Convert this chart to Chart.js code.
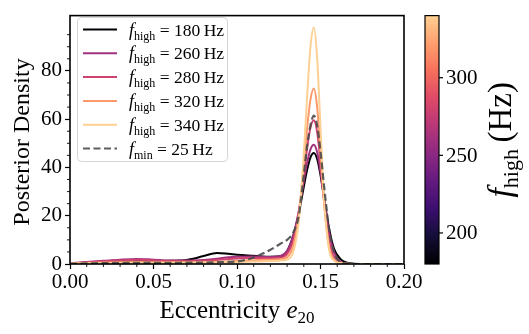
<!DOCTYPE html>
<html>
<head>
<meta charset="utf-8">
<script src="https://cdn.jsdelivr.net/npm/chart.js@4.4.0/dist/chart.umd.min.js"></script>
<style>
  html, body { margin: 0; padding: 0; background: #fff; }
  #wrap { width: 529px; height: 334px; }
</style>
</head>
<body>
<div id="wrap"><canvas id="kde" width="529" height="334"></canvas></div>
<script>
// --- DATA ---
const ecc = [0, 0.01, 0.02, 0.03, 0.04, 0.05, 0.06, 0.07, 0.08, 0.088, 0.095, 0.10, 0.11, 0.12, 0.126,
             0.13, 0.134, 0.137, 0.14, 0.142, 0.144, 0.146, 0.148, 0.15, 0.152, 0.155, 0.158, 0.162,
             0.166, 0.17, 0.18, 0.19, 0.20];
const fHigh = [180, 260, 280, 320, 340];
const fMin = 25;
const dens180 = [0.2, 0.55, 0.8, 1.0, 1.1, 1.2, 1.35, 1.7, 3.3, 4.6, 4.2, 3.8, 3.4, 3.0, 3.2,
                 5.3, 12.5, 21.0, 32.0, 39.0, 44.2, 46.0, 43.5, 36.8, 27.9, 15.2, 6.5, 2.0,
                 0.5, 0.15, 0.02, 0, 0];
const dens260 = [0.3, 0.8, 1.3, 1.8, 2.1, 1.8, 1.5, 1.4, 1.7, 2.2, 2.8, 3.0, 3.1, 2.9, 3.3,
                 5.5, 12.5, 22.0, 34.5, 42.0, 47.5, 49.4, 46.3, 38.3, 27.9, 13.7, 5.1, 0.9,
                 0.15, 0.03, 0, 0, 0];
const dens280 = [0.3, 0.7, 1.1, 1.5, 1.8, 1.5, 1.2, 1.1, 1.3, 1.7, 2.1, 2.3, 2.5, 2.4, 2.6,
                 4.2, 10.5, 21.0, 37.0, 48.0, 56.5, 59.5, 54.6, 42.1, 27.2, 10.4, 2.8, 0.5,
                 0.1, 0.02, 0, 0, 0];
const dens320 = [0.2, 0.4, 0.6, 0.7, 0.8, 0.75, 0.7, 0.7, 0.8, 0.9, 1.05, 1.3, 1.6, 1.8, 2.0,
                 2.8, 8.3, 20.5, 41.0, 56.3, 68.2, 72.7, 65.0, 46.2, 26.2, 7.8, 1.8, 0.4,
                 0.1, 0, 0, 0, 0];
const dens340 = [0.1, 0.3, 0.4, 0.5, 0.5, 0.55, 0.55, 0.55, 0.6, 0.65, 0.75, 0.8, 1.0, 1.2, 1.4,
                 1.8, 5.8, 17.8, 45.5, 69.5, 90.0, 98.0, 85.4, 56.3, 28.3, 6.5, 1.5, 0.4,
                 0.1, 0, 0, 0, 0];
const densMin25 = [0.1, 0.25, 0.35, 0.4, 0.45, 0.5, 0.5, 0.55, 0.6, 0.75, 0.9, 1.05, 2.7, 5.9, 8.4,
                   10.0, 13.5, 20.0, 37.0, 49.0, 57.5, 61.5, 57.4, 46.7, 33.2, 15.3, 5.2, 0.8,
                   0.1, 0, 0, 0, 0];
const xTicks = [0, 0.05, 0.10, 0.15, 0.20];
const yTicks = [0, 20, 40, 60, 80];
const cbTicks = [200, 250, 300];
const cbRange = [180, 340];

// --- STYLE ---
const SERIF = "'Liberation Serif', 'DejaVu Serif', serif";
const lineColors = ['#000004', '#a1307d', '#cf426e', '#fd996b', '#fecf92'];
const magmaStops = ['#000004', '#140e36', '#3b0f70', '#641a80', '#8c2981',
                    '#b73779', '#de4968', '#f7705c', '#fe9f6d', '#fecf92'];
const dashColor = 'rgba(75,75,75,0.9)';

const allSeries = [dens180, dens260, dens280, dens320, dens340];
const peak = Math.max(...allSeries.flat(), ...densMin25);
const yTop = peak * 1.05;

const toPts = arr => arr.map((v, i) => ({ x: ecc[i], y: v }));

const datasets = fHigh.map((f, i) => ({
    label: 'fhigh=' + f,
    data: toPts(allSeries[i]),
    borderColor: lineColors[i],
    borderWidth: 2,
    order: 10 - i
}));
datasets.push({
    label: 'fmin=' + fMin,
    data: toPts(densMin25),
    borderColor: dashColor,
    borderWidth: 2.2,
    borderDash: [7, 3.5],
    order: 1
});

// draw a run of text pieces (for italic f + subscript)
function drawRich(ctx, parts, x, y) {
    let cx = x;
    parts.forEach(p => {
        ctx.font = p.font;
        ctx.fillText(p.t, cx, y + (p.dy || 0));
        cx += ctx.measureText(p.t).width;
    });
    return cx - x;
}
function richWidth(ctx, parts) {
    let w = 0;
    parts.forEach(p => { ctx.font = p.font; w += ctx.measureText(p.t).width; });
    return w;
}

const decor = {
    id: 'decor',
    afterDatasetsDraw(chart) {
        const ctx = chart.ctx;
        const a = chart.chartArea;
        const xs = chart.scales.x, ys = chart.scales.y;
        ctx.save();
        ctx.strokeStyle = '#000';
        ctx.fillStyle = '#000';

        // minor ticks
        ctx.lineWidth = 0.9;
        ctx.beginPath();
        for (let k = 0; k <= 20; k++) {
            if (k % 5 === 0) continue;
            const px = xs.getPixelForValue(k * 0.01);
            ctx.moveTo(px, a.bottom); ctx.lineTo(px, a.bottom + 3);
        }
        for (let v = 5; v < yTop; v += 5) {
            if (v % 20 === 0) continue;
            const py = ys.getPixelForValue(v);
            ctx.moveTo(a.left, py); ctx.lineTo(a.left - 3, py);
        }
        ctx.stroke();

        // frame
        ctx.lineWidth = 1.6;
        ctx.strokeRect(a.left, a.top, a.right - a.left, a.bottom - a.top);

        // legend
        const lx = 77.5, ly = 17.5, lw = 150, lh = 144;
        ctx.beginPath();
        ctx.roundRect(lx, ly, lw, lh, 4);
        ctx.fillStyle = 'rgba(255,255,255,0.85)';
        ctx.fill();
        ctx.strokeStyle = '#d5d5d5';
        ctx.lineWidth = 1;
        ctx.stroke();
        const rows = fHigh.map((f, i) => ({ sub: 'high', val: f, color: lineColors[i], dash: [] }));
        rows.push({ sub: 'min', val: fMin, color: dashColor, dash: [7, 3.5] });
        rows.forEach((r, i) => {
            const cy = 29.5 + i * 23.8;
            ctx.strokeStyle = r.color;
            ctx.lineWidth = r.dash.length ? 2.2 : 2;
            ctx.setLineDash(r.dash);
            ctx.beginPath();
            ctx.moveTo(83, cy); ctx.lineTo(117, cy);
            ctx.stroke();
            ctx.setLineDash([]);
            ctx.fillStyle = '#000';
            ctx.textBaseline = 'alphabetic';
            ctx.textAlign = 'left';
            drawRich(ctx, [
                { t: 'f', font: 'italic 18px ' + SERIF },
                { t: r.sub, font: '12px ' + SERIF, dy: 4 },
                { t: ' = ' + r.val + '\u2009Hz', font: '17.5px ' + SERIF }
            ], 129, cy + 6);
        });

        // colorbar
        const cbx = 425, cbw = 14, cbt = a.top, cbb = a.bottom;
        const grad = ctx.createLinearGradient(0, cbb, 0, cbt);
        magmaStops.forEach((c, i) => grad.addColorStop(i / (magmaStops.length - 1), c));
        ctx.fillStyle = grad;
        ctx.fillRect(cbx, cbt, cbw, cbb - cbt);
        ctx.strokeStyle = '#000';
        ctx.lineWidth = 1.2;
        ctx.strokeRect(cbx, cbt, cbw, cbb - cbt);
        ctx.fillStyle = '#000';
        ctx.font = '21px ' + SERIF;
        ctx.textAlign = 'left';
        ctx.textBaseline = 'middle';
        cbTicks.forEach(v => {
            const py = cbb - (v - cbRange[0]) / (cbRange[1] - cbRange[0]) * (cbb - cbt);
            ctx.beginPath();
            ctx.moveTo(cbx + cbw, py); ctx.lineTo(cbx + cbw + 4, py);
            ctx.stroke();
            ctx.fillText(String(v), cbx + cbw + 7, py + 1);
        });
        // colorbar label
        const cbParts = [
            { t: 'f', font: 'italic 34px ' + SERIF },
            { t: 'high', font: '22px ' + SERIF, dy: 7 },
            { t: '\u2009(Hz)', font: '33px ' + SERIF }
        ];
        ctx.save();
        ctx.translate(511, (cbt + cbb) / 2);
        ctx.rotate(-Math.PI / 2);
        ctx.textBaseline = 'alphabetic';
        drawRich(ctx, cbParts, -richWidth(ctx, cbParts) / 2, 0);
        ctx.restore();

        // axis titles
        ctx.textBaseline = 'alphabetic';
        const xParts = [
            { t: 'Eccentricity ', font: '25px ' + SERIF },
            { t: 'e', font: 'italic 25px ' + SERIF },
            { t: '20', font: '17px ' + SERIF, dy: 5 }
        ];
        drawRich(ctx, xParts, (a.left + a.right) / 2 - richWidth(ctx, xParts) / 2, 318);
        ctx.save();
        ctx.translate(29, 142);
        ctx.rotate(-Math.PI / 2);
        ctx.textAlign = 'center';
        ctx.font = '24px ' + SERIF;
        ctx.fillText('Posterior Density', 0, 0);
        ctx.restore();

        ctx.restore();
    }
};

const tickGrid = {
    display: true,
    drawOnChartArea: false,
    drawTicks: true,
    tickLength: 5,
    tickWidth: 1.2,
    tickColor: '#000'
};

new Chart(document.getElementById('kde').getContext('2d'), {
    type: 'line',
    data: { datasets: datasets },
    options: {
        responsive: false,
        animation: false,
        layout: { padding: { top: 10, right: 125, left: 0, bottom: 0 } },
        elements: {
            point: { radius: 0 },
            line: { cubicInterpolationMode: 'monotone', fill: false }
        },
        scales: {
            x: {
                type: 'linear',
                min: 0, max: 0.2,
                afterFit: s => { s.height = 70; },
                afterBuildTicks: s => { s.ticks = xTicks.map(v => ({ value: v })); },
                grid: tickGrid,
                border: { display: false },
                ticks: {
                    color: '#000',
                    padding: 1,
                    maxRotation: 0,
                    font: { family: SERIF, size: 21 },
                    callback: v => Number(v).toFixed(2)
                }
            },
            y: {
                min: 0, max: yTop,
                afterFit: s => { s.width = 70; },
                afterBuildTicks: s => { s.ticks = yTicks.map(v => ({ value: v })); },
                grid: tickGrid,
                border: { display: false },
                ticks: {
                    color: '#000',
                    padding: 3,
                    font: { family: SERIF, size: 21 }
                }
            }
        },
        plugins: {
            legend: { display: false },
            tooltip: { enabled: false }
        }
    },
    plugins: [decor]
});
</script>
</body>
</html>
